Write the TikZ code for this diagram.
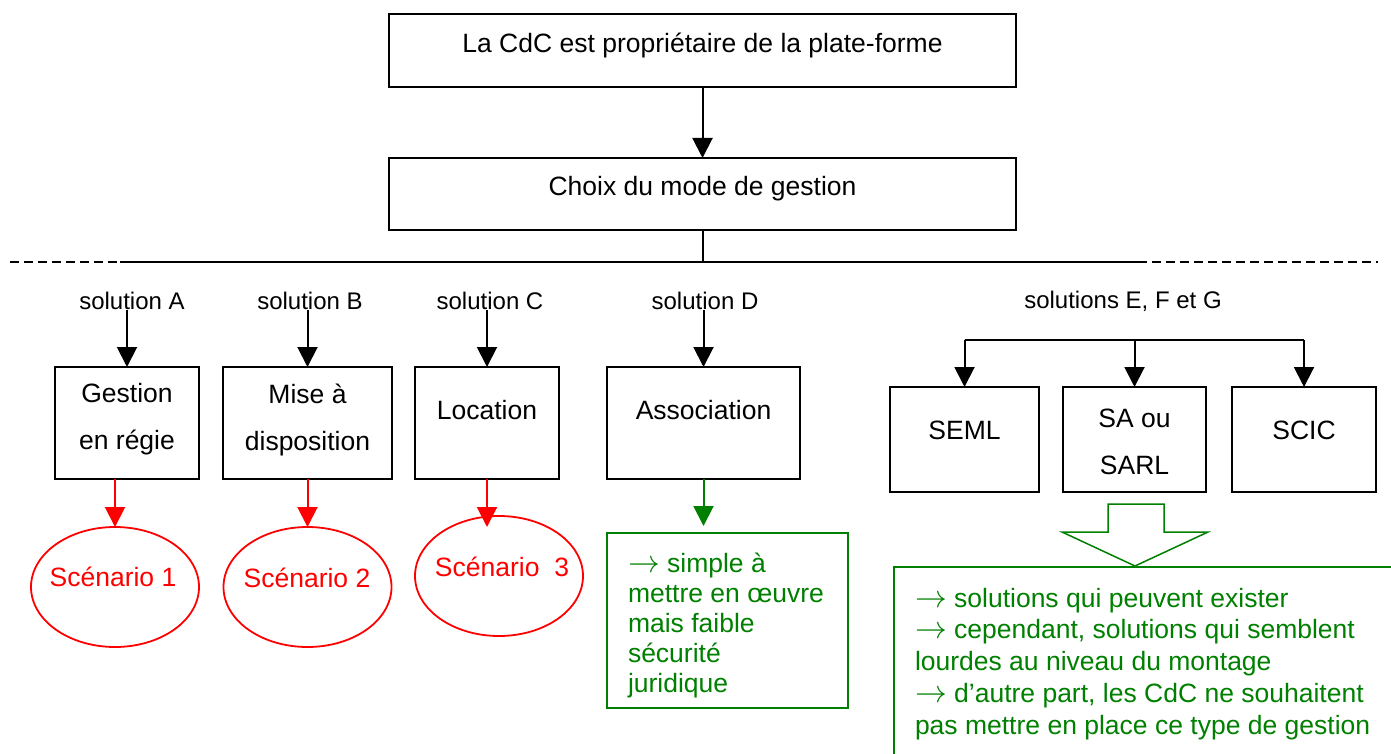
\RequirePackage{fix-cm}
\documentclass[tikz,border=0pt]{standalone}
\usepackage{fontspec}
\setmainfont{Liberation Sans}
\usetikzlibrary{arrows.meta,shapes.geometric}
\definecolor{scred}{RGB}{255,0,0}
\definecolor{okgreen}{RGB}{0,128,0}
\newcommand\bulletarrow{\scalebox{1.2}{$\rightarrow$}}

\begin{document}
\begin{tikzpicture}[x=1pt,y=-1pt,
  every node/.style={inner sep=0pt, outer sep=0pt},
  box/.style={draw, rectangle, line width=1.8pt},
  oval/.style={draw=scred, ellipse, line width=1.8pt, minimum width=168pt, minimum height=120pt},
  txt/.style={font=\fontsize{26.5}{47}\selectfont, align=center},
  lbl/.style={font=\fontsize{24}{28}\selectfont},
  scen/.style={font=\fontsize{26.5}{30}\selectfont, text=scred},
  gtxt/.style={font=\fontsize{26.5}{30}\selectfont, text=okgreen, align=left},
  gtxtwide/.style={font=\fontsize{26.5}{31.7}\selectfont, text=okgreen, align=left},
  arrowtip/.style={-{Triangle[length=20pt,width=20pt]}},
  arr/.style={arrowtip, line width=2pt},
  redarr/.style={arrowtip, line width=2pt, draw=scred, fill=scred},
  greenarr/.style={arrowtip, line width=2pt, draw=okgreen, fill=okgreen},
  rule/.style={line width=2pt},
  dashrule/.style={line width=2pt, dash pattern=on 9pt off 5pt},
]
\useasboundingbox (0,0) rectangle (1391,754);
\clip (0,0) rectangle (1391,754);

% top of the chart
\node[box, minimum width=627pt, minimum height=73pt] (T) at (702.5,50.5) {};
\node[txt] (Ttxt) at (702.5,45) {La CdC est propriétaire de la plate-forme};
\node[box, minimum width=627pt, minimum height=72pt] (M) at (702.5,194) {};
\node[txt] (Mtxt) at (702.5,189) {Choix du mode de gestion};
\draw[arr] (T.south) -- (M.north);

% separation line
\coordinate (h0) at (10,262);
\coordinate (h1) at (120,262);
\coordinate (hm) at (702.5,262);
\coordinate (h2) at (1138,262);
\coordinate (h3) at (1378,262);
\draw[rule] (M.south) -- (hm);
\draw[dashrule] (h0) -- (h1);
\draw[rule] (h1) -- (h2);
\draw[dashrule] (h2) -- (h3);

% solution labels
\node[lbl] (solA) at (132,301) {solution A};
\node[lbl] (solB) at (310,301) {solution B};
\node[lbl] (solC) at (490,301) {solution C};
\node[lbl] (solD) at (705,301) {solution D};
\node[lbl] (solE) at (1123,301) {solutions E, F et G};

% management boxes
\node[box, minimum width=144pt, minimum height=112pt] (A) at (127,423) {};
\node[txt] (Atxt) at (127,419.5) {Gestion\\en régie};
\node[box, minimum width=169pt, minimum height=112pt] (B) at (307.5,423) {};
\node[txt] (Btxt) at (307.5,419.5) {Mise à\\disposition};
\node[box, minimum width=144pt, minimum height=112pt] (C) at (487,423) {};
\node[txt] (Ctxt) at (487,410) {Location};
\node[box, minimum width=193pt, minimum height=112pt] (D) at (703.5,423) {};
\node[txt] (Dtxt) at (703.5,410) {Association};

\draw[arr] (solA.south -| A.north) -- (A.north);
\draw[arr] (solB.south -| B.north) -- (B.north);
\draw[arr] (solC.south -| C.north) -- (C.north);
\draw[arr] (solD.south -| D.north) -- (D.north);

% companies
\node[box, minimum width=149pt, minimum height=105pt] (SEML) at (964.5,439.5) {};
\node[txt] (SEMLtxt) at (964.5,430) {SEML};
\node[box, minimum width=143pt, minimum height=105pt] (SA) at (1134.5,439.5) {};
\node[txt] (SAtxt) at (1134.5,442) {SA ou\\SARL};
\node[box, minimum width=144pt, minimum height=105pt] (SCIC) at (1304,439.5) {};
\node[txt] (SCICtxt) at (1304,430) {SCIC};

\coordinate (br) at (1134.5,340);
\draw[rule] (SEML.north |- br) -- (SCIC.north |- br);
\draw[arr] (SEML.north |- br) -- (SEML.north);
\draw[arr] (SA.north |- br) -- (SA.north);
\draw[arr] (SCIC.north |- br) -- (SCIC.north);

% scenarios
\node[oval] (E1) at (115,587) {};
\node[scen] (E1txt) at (113,577) {Scénario 1};
\node[oval] (E2) at (307.5,587) {};
\node[scen] (E2txt) at (307,578) {Scénario 2};
\node[oval] (E3) at (499,576) {};
\node[scen] (E3txt) at (502,567) {Scénario\ \ 3};
\coordinate (E3tip) at (487,527);

\draw[redarr] (E1.north |- A.south) -- (E1.north);
\draw[redarr] (B.south) -- (E2.north);
\draw[redarr] (C.south) -- (E3tip);

% association remark
\node[draw=okgreen, line width=1.8pt, rectangle, minimum width=241pt, minimum height=175pt] (G1) at (727.5,620.5) {};
\node[gtxt, anchor=north west] (G1txt) at (628,553) {\bulletarrow{} simple à\\mettre en œuvre\\mais faible\\sécurité\\juridique};
\draw[greenarr, shorten >=7pt] (D.south) -- (D.south |- G1.north);

% remark on companies
\node[draw=okgreen, line width=1.8pt, rectangle, minimum width=526pt, minimum height=213pt] (G2) at (1157,673.5) {};
\node[gtxtwide, anchor=north west] (G2txt) at (915,588) {\bulletarrow{} solutions qui peuvent exister\\\bulletarrow{} cependant, solutions qui semblent\\lourdes au niveau du montage\\\bulletarrow{} d’autre part, les CdC ne souhaitent\\pas mettre en place ce type de gestion};
\draw[draw=okgreen, line width=1.5pt, fill=white, line join=miter]
  (1108,504) -- (1164,504) -- (1164,532) -- (1208,532) -- (1135,566) -- (1062,532) -- (1108,532) -- cycle;
\end{tikzpicture}
\end{document}
